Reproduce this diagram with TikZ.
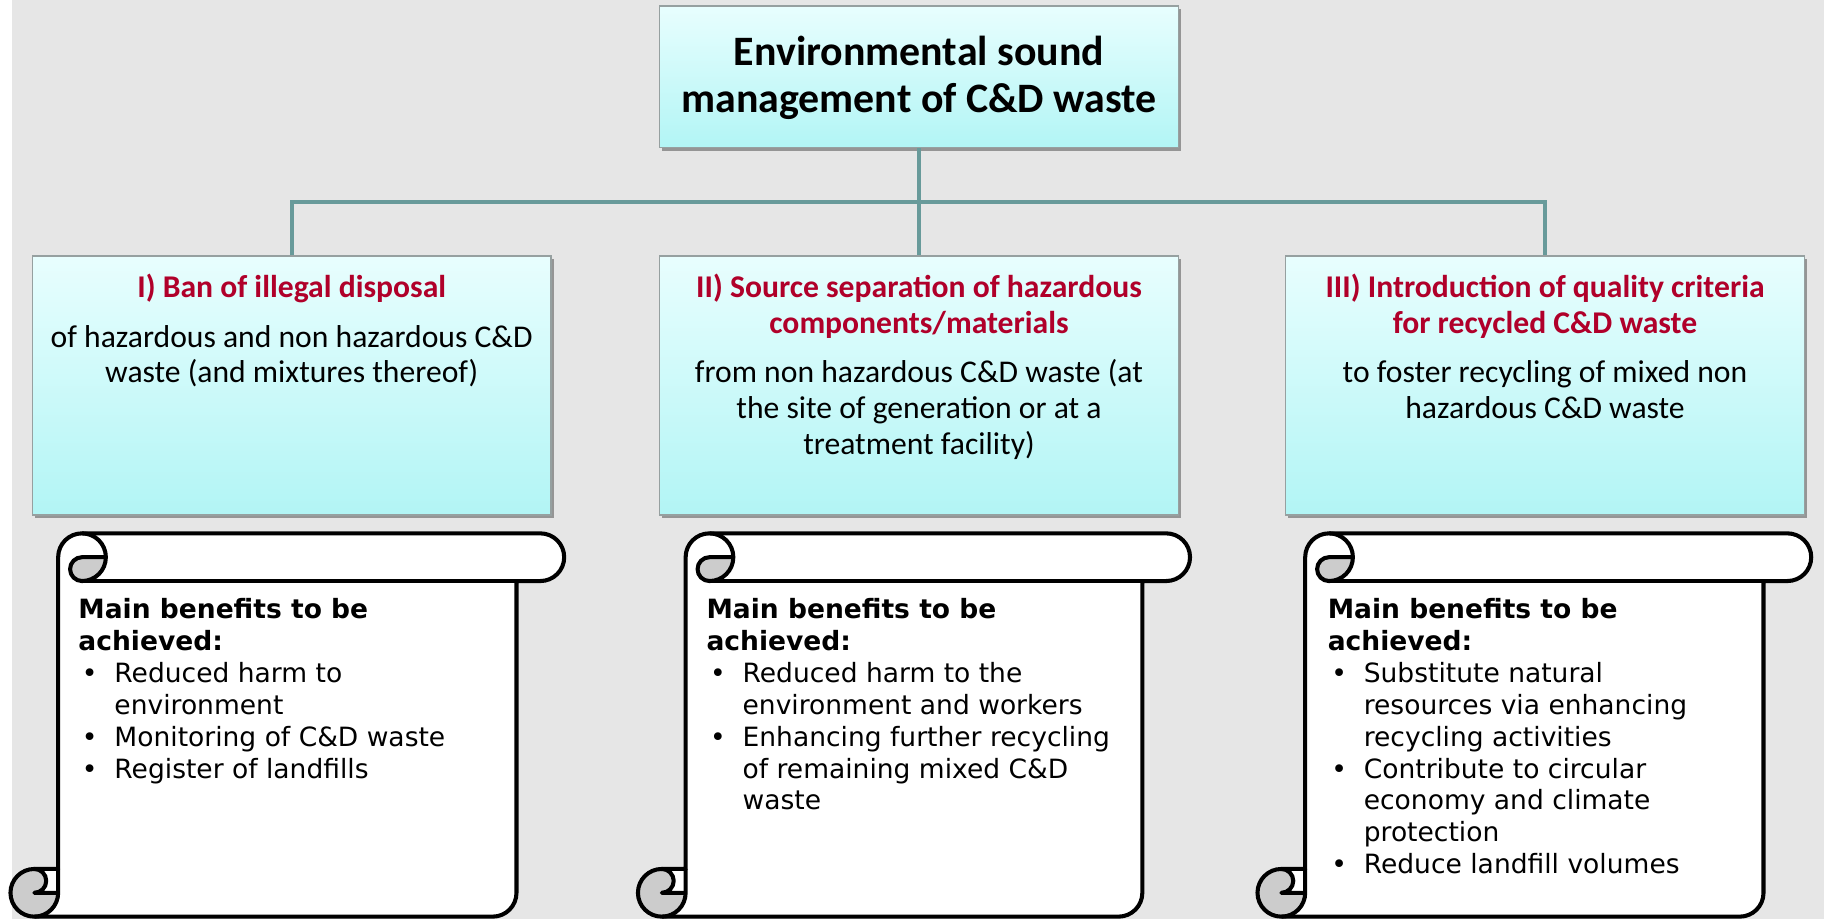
\documentclass[tikz,border=0pt]{standalone}
\usepackage{fontspec}
\setmainfont{Carlito}
\newfontfamily\scrollfont{DejaVu Sans}
\usetikzlibrary{shadows}
\definecolor{bggray}{RGB}{230,230,230}
\definecolor{conncol}{RGB}{104,154,154}
\definecolor{titlered}{RGB}{176,0,42}
\definecolor{boxtop}{RGB}{232,254,254}
\definecolor{boxbot}{RGB}{178,245,245}
\definecolor{boxline}{RGB}{150,160,160}
\definecolor{curlgray}{RGB}{204,204,204}
\newcommand{\sbul}{\hspace*{1.5pt}\makebox[14pt][l]{•}}
\newcommand{\sind}{\hspace*{15.5pt}}
\newcommand{\drawscroll}[4]{%
  \pgfmathsetmacro{\sL}{#1}\pgfmathsetmacro{\sR}{#2}%
  \pgfmathsetmacro{\sT}{#3}\pgfmathsetmacro{\sB}{#4}%
  \pgfmathsetmacro{\sC}{41}\pgfmathsetmacro{\sH}{20.5}\pgfmathsetmacro{\sQ}{10.25}%
  \pgfmathsetmacro{\sxh}{\sL+\sH}\pgfmathsetmacro{\sxc}{\sL+\sC}%
  \pgfmathsetmacro{\sxiii}{\sL+1.5*\sC}\pgfmathsetmacro{\sxiv}{\sL+2*\sC}%
  \pgfmathsetmacro{\sxvi}{\sR-\sC}\pgfmathsetmacro{\sxvii}{\sR-\sH}%
  \pgfmathsetmacro{\syh}{\sT+\sH}\pgfmathsetmacro{\syc}{\sT+\sC}%
  \pgfmathsetmacro{\syiii}{\sB-\sC}\pgfmathsetmacro{\syiv}{\sB-\sH}%
  \fill[white] (\sxc,\syiii) -- (\sxc,\syh) arc[start angle=180,delta angle=90,radius=\sH]
    -- (\sxvii,\sT) arc[start angle=270,delta angle=180,radius=\sH]
    -- (\sxvi,\syc) -- (\sxvi,\syiv) arc[start angle=0,delta angle=90,radius=\sH]
    -- (\sxh,\sB) arc[start angle=90,delta angle=180,radius=\sH] -- cycle;
  \fill[curlgray] (\sxiv,\syh) arc[start angle=0,delta angle=90,radius=\sH]
    arc[start angle=90,delta angle=180,radius=\sQ] -- cycle;
  \fill[curlgray] (\sxc,\syiv) arc[start angle=0,delta angle=270,radius=\sH]
    arc[start angle=270,delta angle=180,radius=\sQ] -- cycle;
  \draw[scrollline] (\sxc,\syiii) -- (\sxc,\syh) arc[start angle=180,delta angle=90,radius=\sH]
    -- (\sxvii,\sT) arc[start angle=270,delta angle=180,radius=\sH]
    -- (\sxvi,\syc) -- (\sxvi,\syiv) arc[start angle=0,delta angle=90,radius=\sH]
    -- (\sxh,\sB) arc[start angle=90,delta angle=180,radius=\sH] -- cycle;
  \draw[scrollline] (\sxiii,\sT) arc[start angle=270,delta angle=180,radius=\sH]
    arc[start angle=90,delta angle=180,radius=\sQ] -- (\sxiv,\syh);
  \draw[scrollline] (\sxvi,\syc) -- (\sxiii,\syc);
  \draw[scrollline] (\sxh,\syiii) arc[start angle=270,delta angle=180,radius=\sQ] -- (\sxc,\syiv);
  \draw[scrollline] (\sxh,\sB) arc[start angle=90,delta angle=-90,radius=\sH] -- (\sxc,\syiii);
}
\tikzset{
  scrollline/.style={draw=black,line width=1.75pt,line join=round},
  conn/.style={draw=conncol,line width=1.7pt},
  box/.style={draw=boxline,line width=0.6pt,top color=boxtop,bottom color=boxbot,
    minimum width=223pt,inner sep=0pt,
    drop shadow={shadow xshift=1.2pt,shadow yshift=-1.5pt,opacity=0.35,fill=black}},
  toptext/.style={font=\fontsize{18}{20.5}\selectfont\bfseries,align=center,inner sep=0pt,anchor=north},
  boxtext/.style={font=\fontsize{13.6}{15.4}\selectfont,align=center,inner sep=0pt,anchor=north},
  scrolltext/.style={font=\scrollfont\fontsize{11.4}{13.7}\selectfont,align=left,inner sep=0pt,anchor=north west}
}
\begin{document}
\begin{tikzpicture}[x=0.5pt,y=-0.5pt]
\useasboundingbox (0,0) rectangle (1568,790);
\fill[white] (0,0) rectangle (1568,790);
\fill[bggray] (10,0) rectangle (1568,790);

\node[box,minimum height=61pt] (top) at (790,66) {};
\node[box,minimum height=111.35pt] (b1) at (250.75,331.35) {};
\node[box,minimum height=111.35pt] (b2) at (790,331.35) {};
\node[box,minimum height=111.35pt] (b3) at (1328.15,331.35) {};

\coordinate (j) at (790,173.4);
\draw[conn] (top.south) -- (b2.north);
\draw[conn] (b1.north) |- (j) -| (b3.north);

\node[toptext] (toptxt) at (790,27) {\strut Environmental sound\\ management of C\&D waste};

\node[boxtext] (t1) at (250.75,234) {\strut{\color{titlered}\bfseries I) Ban of illegal disposal}\\[5.8pt]
  of hazardous and non hazardous C\&D\\ waste (and mixtures thereof)};
\node[boxtext] (t2) at (790,234) {\strut{\color{titlered}\bfseries II) Source separation of hazardous}\\
  {\color{titlered}\bfseries components/materials}\\[5.8pt]
  from non hazardous C\&D waste (at\\ the site of generation or at a\\ treatment facility)};
\node[boxtext] (t3) at (1328.15,234) {\strut{\color{titlered}\bfseries III) Introduction of quality criteria}\\
  {\color{titlered}\bfseries for recycled C\&D waste}\\[5.8pt]
  to foster recycling of mixed non\\ hazardous C\&D waste};

\drawscroll{9}{485}{458.5}{788}
\drawscroll{548.4}{1023}{458.5}{788}
\drawscroll{1081}{1557}{458.5}{788}

\node[scrolltext] (s1) at (67,512.3) {\strut\textbf{Main benefits to be}\\ \textbf{achieved:}\\
  \sbul Reduced harm to\\ \sind environment\\ \sbul Monitoring of C\&D waste\\ \sbul Register of landfills};
\node[scrolltext] (s2) at (607,512.3) {\strut\textbf{Main benefits to be}\\ \textbf{achieved:}\\
  \sbul Reduced harm to the\\ \sind environment and workers\\ \sbul Enhancing further recycling\\
  \sind of remaining mixed C\&D\\ \sind waste};
\node[scrolltext] (s3) at (1141,512.3) {\strut\textbf{Main benefits to be}\\ \textbf{achieved:}\\
  \sbul Substitute natural\\ \sind resources via enhancing\\ \sind recycling activities\\
  \sbul Contribute to circular\\ \sind economy and climate\\ \sind protection\\ \sbul Reduce landfill volumes};
\end{tikzpicture}
\end{document}
